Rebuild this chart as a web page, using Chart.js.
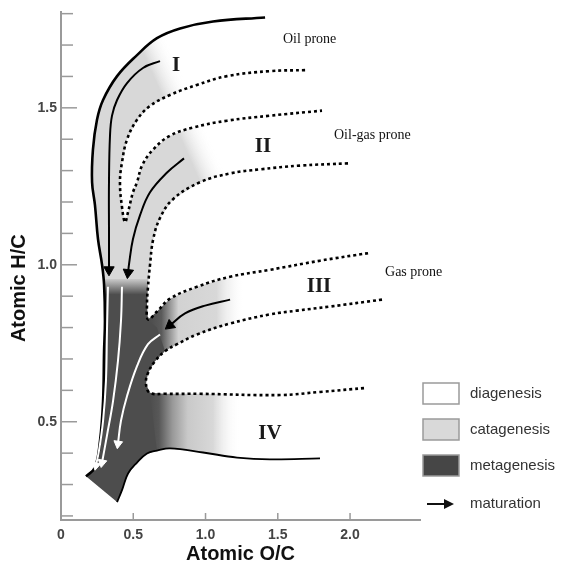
<!DOCTYPE html>
<html>
<head>
<meta charset="utf-8">
<script src="https://cdn.jsdelivr.net/npm/chart.js@4.4.1/dist/chart.umd.min.js"></script>
<style>
  html, body { margin: 0; padding: 0; background: #fff; }
</style>
</head>
<body>
<canvas id="vk" width="562" height="564"></canvas>
<script>
// Van Krevelen diagram (atomic O/C vs atomic H/C)

// heavy outer boundary of the type I path
const outerOC = [1.412, 1.052, 0.824, 0.664, 0.526, 0.388, 0.291, 0.249, 0.221, 0.215, 0.235, 0.256, 0.284, 0.298, 0.304, 0.298, 0.291, 0.270, 0.235, 0.173];
const outerHC = [1.788, 1.775, 1.753, 1.722, 1.668, 1.601, 1.525, 1.462, 1.367, 1.263, 1.190, 1.082, 1.000, 0.937, 0.820, 0.725, 0.566, 0.440, 0.354, 0.326];

// dashed boundaries
const typeIBaseOC = [1.689, 1.446, 1.149, 0.941, 0.754, 0.616, 0.526, 0.457, 0.422, 0.408, 0.422, 0.443];
const typeIBaseHC = [1.620, 1.617, 1.601, 1.573, 1.541, 1.506, 1.462, 1.399, 1.326, 1.263, 1.184, 1.136];
const typeIITopOC = [0.443, 0.464, 0.498, 0.526, 0.561, 0.637, 0.754, 0.913, 1.149, 1.446, 1.806];
const typeIITopHC = [1.136, 1.168, 1.231, 1.263, 1.316, 1.367, 1.411, 1.437, 1.459, 1.475, 1.491];
const typeIIBaseOC = [1.986, 1.654, 1.377, 1.170, 0.962, 0.775, 0.685, 0.637, 0.616, 0.602, 0.595, 0.602];
const typeIIBaseHC = [1.323, 1.316, 1.304, 1.291, 1.263, 1.209, 1.149, 1.079, 1.000, 0.930, 0.873, 0.826];
const typeIIITopOC = [0.602, 0.664, 0.754, 0.941, 1.170, 1.446, 1.792, 2.138];
const typeIIITopHC = [0.826, 0.851, 0.892, 0.930, 0.962, 0.984, 1.013, 1.038];
const typeIIIBaseOC = [2.221, 1.862, 1.633, 1.446, 1.170, 0.941, 0.803, 0.720, 0.651, 0.602, 0.588];
const typeIIIBaseHC = [0.889, 0.867, 0.854, 0.842, 0.813, 0.778, 0.747, 0.725, 0.693, 0.655, 0.620];
const typeIVTopOC = [0.616, 0.720, 0.962, 1.516, 1.792, 2.118];
const typeIVTopHC = [0.592, 0.589, 0.589, 0.585, 0.595, 0.608];

// solid base of the metagenesis tail and type IV
const typeIVBaseOC = [0.388, 0.422, 0.464, 0.526, 0.595, 0.664, 0.754, 0.983, 1.218, 1.446, 1.792];
const typeIVBaseHC = [0.244, 0.282, 0.335, 0.370, 0.399, 0.408, 0.415, 0.402, 0.386, 0.380, 0.383];

// maturation arrows
const arrowIOC = [0.685, 0.567, 0.457, 0.388, 0.353, 0.339, 0.332, 0.332, 0.332];
const arrowIHC = [1.649, 1.627, 1.579, 1.525, 1.475, 1.411, 1.263, 1.104, 0.984];
const arrowIIOC = [0.851, 0.734, 0.616, 0.547, 0.498, 0.471, 0.464];
const arrowIIHC = [1.339, 1.294, 1.231, 1.158, 1.082, 1.003, 0.975];
const arrowIIIOC = [1.170, 0.997, 0.858, 0.754];
const arrowIIIHC = [0.889, 0.870, 0.845, 0.807];
const whiteAOC = [0.325, 0.318, 0.311, 0.291, 0.263, 0.242];
const whiteAHC = [0.930, 0.788, 0.630, 0.503, 0.408, 0.361];
const whiteBOC = [0.422, 0.415, 0.394, 0.360, 0.318, 0.284];
const whiteBHC = [0.930, 0.820, 0.693, 0.566, 0.456, 0.370];
const whiteCOC = [0.685, 0.602, 0.526, 0.457, 0.415, 0.394];
const whiteCHC = [0.778, 0.747, 0.677, 0.582, 0.503, 0.430];

// labels
const typeNames = ['I', 'II', 'III', 'IV'];
const typeNameOC = [0.796, 1.398, 1.785, 1.446];
const typeNameHC = [1.636, 1.377, 0.930, 0.462];
const proneNames = ['Oil prone', 'Oil-gas prone', 'Gas prone'];
const proneOC = [1.536, 1.889, 2.242];
const proneHC = [1.718, 1.411, 0.975];
const legendNames = ['diagenesis', 'catagenesis', 'metagenesis', 'maturation'];
const xTickValues = [0, 0.5, 1.0, 1.5, 2.0];
const yLabelValues = [0.5, 1.0, 1.5];

const SANS = '"Liberation Sans", Arial, sans-serif';
const SERIF = '"Liberation Serif", "Times New Roman", serif';
const LIGHT = '#d8d8d8';
const DARK = '#4d4d4d';

function pts(xs, ys) {
    return xs.map((v, i) => ({ x: v, y: ys[i] }));
}

function part(xs, ys, from, to) {
    const out = [];
    const step = from <= to ? 1 : -1;
    for (let i = from; i !== to + step; i += step) out.push({ x: xs[i], y: ys[i] });
    return out;
}

// gradient built in pixel space from data positions
function linearPaint(x0, y0, x1, y1, stops) {
    return function(context) {
        const chart = context.chart;
        if (!chart.chartArea) return stops[0][1];
        const sx = chart.scales.x, sy = chart.scales.y;
        const g = chart.ctx.createLinearGradient(
            sx.getPixelForValue(x0), sy.getPixelForValue(y0),
            sx.getPixelForValue(x1), sy.getPixelForValue(y1));
        stops.forEach(s => g.addColorStop(s[0], s[1]));
        return g;
    };
}

function headAngle(ctx) {
    const d = ctx.dataset.data;
    const n = d.length;
    const sx = ctx.chart.scales.x, sy = ctx.chart.scales.y;
    const dx = sx.getPixelForValue(d[n - 1].x) - sx.getPixelForValue(d[n - 2].x);
    const dy = sy.getPixelForValue(d[n - 1].y) - sy.getPixelForValue(d[n - 2].y);
    return Math.atan2(dx, -dy) * 180 / Math.PI;
}

function areaSet(label, data, paint, order) {
    return {
        label, data, order,
        showLine: true, fill: 'shape', tension: 0,
        borderWidth: 0, borderColor: 'rgba(0,0,0,0)',
        backgroundColor: paint, pointRadius: 0
    };
}

function curveSet(label, data, width, dash, order) {
    return {
        label, data, order,
        showLine: true, fill: false, tension: 0.4,
        borderColor: '#000', borderWidth: width, borderDash: dash,
        pointRadius: 0
    };
}

function arrowSet(label, data, color, width, head, order) {
    const end = data.length - 1;
    return {
        label, data, order,
        showLine: true, fill: false, tension: 0.4,
        borderColor: color, borderWidth: width,
        pointStyle: 'triangle',
        pointRadius: ctx => ctx.dataIndex === end ? head : 0,
        pointBackgroundColor: color, pointBorderColor: color, pointBorderWidth: 1,
        pointRotation: headAngle
    };
}

// polygons for the shaded fields
const catagenesisField = []
    .concat(part(outerOC, outerHC, 0, 13))
    .concat([{ x: 0.300, y: 0.915 }, { x: 0.602, y: 0.915 }])
    .concat(part(typeIIBaseOC, typeIIBaseHC, 9, 0))
    .concat(part(typeIITopOC, typeIITopHC, typeIITopOC.length - 1, 0))
    .concat(part(typeIBaseOC, typeIBaseHC, typeIBaseOC.length - 2, 0));

const metagenesisField = [{ x: 0.296, y: 0.955 }]
    .concat(part(outerOC, outerHC, 13, outerOC.length - 1))
    .concat(part(typeIVBaseOC, typeIVBaseHC, 0, 5))
    .concat([{ x: typeIVTopOC[0], y: typeIVTopHC[0] }])
    .concat(part(typeIIIBaseOC, typeIIIBaseHC, typeIIIBaseOC.length - 1, 7))
    .concat([{ x: 0.664, y: 0.800 }])
    .concat(part(typeIIBaseOC, typeIIBaseHC, typeIIBaseOC.length - 1, 9))
    .concat([{ x: 0.602, y: 0.955 }]);

const typeIIIField = pts(typeIIITopOC, typeIIITopHC)
    .concat(part(typeIIIBaseOC, typeIIIBaseHC, 0, 7));

// extends under the dark tail so no seam shows between the two fills
const typeIVField = pts(typeIVTopOC, typeIVTopHC)
    .concat(part(typeIVBaseOC, typeIVBaseHC, typeIVBaseOC.length - 1, 4))
    .concat([{ x: 0.50, y: 0.42 }, { x: 0.50, y: 0.59 }]);

const fade = 'rgba(255,255,255,0)';

const datasets = [
    areaSet('catagenesis', catagenesisField,
        linearPaint(0.685, 1.437, 0.997, 1.50, [[0, LIGHT], [0.3, LIGHT], [0.85, fade]]), 50),
    areaSet('type III field', typeIIIField,
        linearPaint(0.616, 0.8, 1.273, 0.8, [[0, DARK], [0.12, '#5a5a5a'], [0.3, '#d2d2d2'], [0.7, LIGHT], [1, fade]]), 48),
    areaSet('type IV field', typeIVField,
        linearPaint(0.616, 0.5, 1.239, 0.5, [[0, DARK], [0.1, '#585858'], [0.25, '#999999'], [0.42, '#c9c9c9'], [0.7, LIGHT], [1, fade]]), 47),
    areaSet('metagenesis', metagenesisField,
        linearPaint(0.4, 0.96, 0.4, 0.905, [[0, LIGHT], [1, DARK]]), 45),

    curveSet('outer boundary', pts(outerOC, outerHC), 2.6, [], 5),
    curveSet('type I / II boundary', pts(typeIBaseOC, typeIBaseHC).concat(part(typeIITopOC, typeIITopHC, 1, typeIITopOC.length - 1)), 2.6, [3, 3], 5),
    curveSet('type II / III boundary', pts(typeIIBaseOC, typeIIBaseHC).concat(part(typeIIITopOC, typeIIITopHC, 1, typeIIITopOC.length - 1)), 2.6, [3, 3], 5),
    curveSet('type III / IV boundary', pts(typeIIIBaseOC, typeIIIBaseHC).concat(pts(typeIVTopOC, typeIVTopHC)), 2.6, [3, 3], 5),
    curveSet('type IV base', pts(typeIVBaseOC, typeIVBaseHC), 1.8, [], 5),

    arrowSet('type I path', pts(arrowIOC, arrowIHC), '#000', 2, 6, 2),
    arrowSet('type II path', pts(arrowIIOC, arrowIIHC), '#000', 2, 6, 2),
    arrowSet('type III path', pts(arrowIIIOC, arrowIIIHC), '#000', 2, 6, 2),
    arrowSet('metagenesis A', pts(whiteAOC, whiteAHC), '#fff', 2, 5, 1),
    arrowSet('metagenesis B', pts(whiteBOC, whiteBHC), '#fff', 2, 5, 1),
    arrowSet('metagenesis C', pts(whiteCOC, whiteCHC), '#fff', 2, 5, 1)
];

function isOnStep(v, step) {
    return Math.abs(v / step - Math.round(v / step)) < 1e-6;
}

// inward tick marks, y title, type labels and legend
const decorPlugin = {
    id: 'decor',
    afterDraw(chart) {
        const { ctx, chartArea: area, scales: { x, y } } = chart;
        ctx.save();
        ctx.strokeStyle = '#9a9a9a';
        ctx.lineWidth = 1.5;
        y.ticks.forEach(t => {
            if (!isOnStep(t.value, 0.1)) return;
            const py = y.getPixelForValue(t.value);
            const len = isOnStep(t.value, 0.5) ? 16 : 12;
            ctx.beginPath();
            ctx.moveTo(area.left, py);
            ctx.lineTo(area.left + len, py);
            ctx.stroke();
        });
        x.ticks.forEach(t => {
            if (t.value === 0) return;
            const px = x.getPixelForValue(t.value);
            ctx.beginPath();
            ctx.moveTo(px, area.bottom);
            ctx.lineTo(px, area.bottom - 7);
            ctx.stroke();
        });

        // y axis title
        ctx.fillStyle = '#111';
        ctx.font = 'bold 20px ' + SANS;
        ctx.textAlign = 'center';
        ctx.textBaseline = 'middle';
        ctx.save();
        ctx.translate(19, (area.top + area.bottom) / 2 + 22);
        ctx.rotate(-Math.PI / 2);
        ctx.fillText('Atomic H/C', 0, 0);
        ctx.restore();

        // kerogen type numerals
        ctx.font = 'bold 21px ' + SERIF;
        ctx.fillStyle = '#1a1a1a';
        typeNames.forEach((name, i) => {
            ctx.fillText(name, x.getPixelForValue(typeNameOC[i]), y.getPixelForValue(typeNameHC[i]));
        });

        ctx.font = '14px ' + SERIF;
        ctx.fillStyle = '#111';
        ctx.textAlign = 'left';
        proneNames.forEach((name, i) => {
            ctx.fillText(name, x.getPixelForValue(proneOC[i]), y.getPixelForValue(proneHC[i]));
        });

        // legend
        const boxFills = ['#ffffff', '#d9d9d9', '#464646'];
        const boxTops = [383, 419, 455];
        const textY = [393.5, 429.5, 466, 504];
        ctx.lineWidth = 1.5;
        ctx.strokeStyle = '#9a9a9a';
        boxFills.forEach((fill, i) => {
            ctx.fillStyle = fill;
            ctx.fillRect(423, boxTops[i], 36, 21);
            ctx.strokeRect(423, boxTops[i], 36, 21);
        });
        ctx.strokeStyle = '#111';
        ctx.fillStyle = '#111';
        ctx.lineWidth = 2;
        ctx.beginPath();
        ctx.moveTo(427, 504);
        ctx.lineTo(446, 504);
        ctx.stroke();
        ctx.beginPath();
        ctx.moveTo(454, 504);
        ctx.lineTo(444, 499);
        ctx.lineTo(444, 509);
        ctx.closePath();
        ctx.fill();

        ctx.font = '15px ' + SANS;
        ctx.fillStyle = '#333';
        legendNames.forEach((name, i) => ctx.fillText(name, 470, textY[i]));
        ctx.restore();
    }
};

new Chart(document.getElementById('vk'), {
    type: 'scatter',
    data: { datasets },
    options: {
        responsive: false,
        animation: false,
        events: [],
        layout: { padding: { top: 9, right: 142, left: 0, bottom: 0 } },
        plugins: {
            legend: { display: false },
            tooltip: { enabled: false }
        },
        scales: {
            x: {
                type: 'linear',
                min: 0,
                max: 2.484,
                afterFit: scale => { scale.height = 44; },
                afterBuildTicks: scale => { scale.ticks = xTickValues.map(v => ({ value: v })); },
                grid: { display: false, drawTicks: false },
                border: { color: '#9a9a9a', width: 2 },
                ticks: {
                    padding: 7,
                    color: '#444',
                    font: { family: SANS, size: 14, weight: 'bold' },
                    callback: v => v === 0 ? '0' : Number(v).toFixed(1)
                },
                title: {
                    display: true,
                    text: 'Atomic O/C',
                    color: '#111',
                    font: { family: SANS, size: 20, weight: 'bold', lineHeight: 1 },
                    padding: { top: 0, bottom: 0 }
                }
            },
            y: {
                type: 'linear',
                min: 0.187,
                max: 1.804,
                afterFit: scale => { scale.width = 61; },
                grid: { display: false, drawTicks: false },
                border: { color: '#9a9a9a', width: 2 },
                ticks: {
                    stepSize: 0.1,
                    includeBounds: false,
                    padding: 4,
                    autoSkip: false,
                    color: '#444',
                    font: { family: SANS, size: 14, weight: 'bold' },
                    callback: v => yLabelValues.some(m => Math.abs(m - v) < 1e-6) ? Number(v).toFixed(1) : ''
                }
            }
        }
    },
    plugins: [decorPlugin]
});
</script>
</body>
</html>
